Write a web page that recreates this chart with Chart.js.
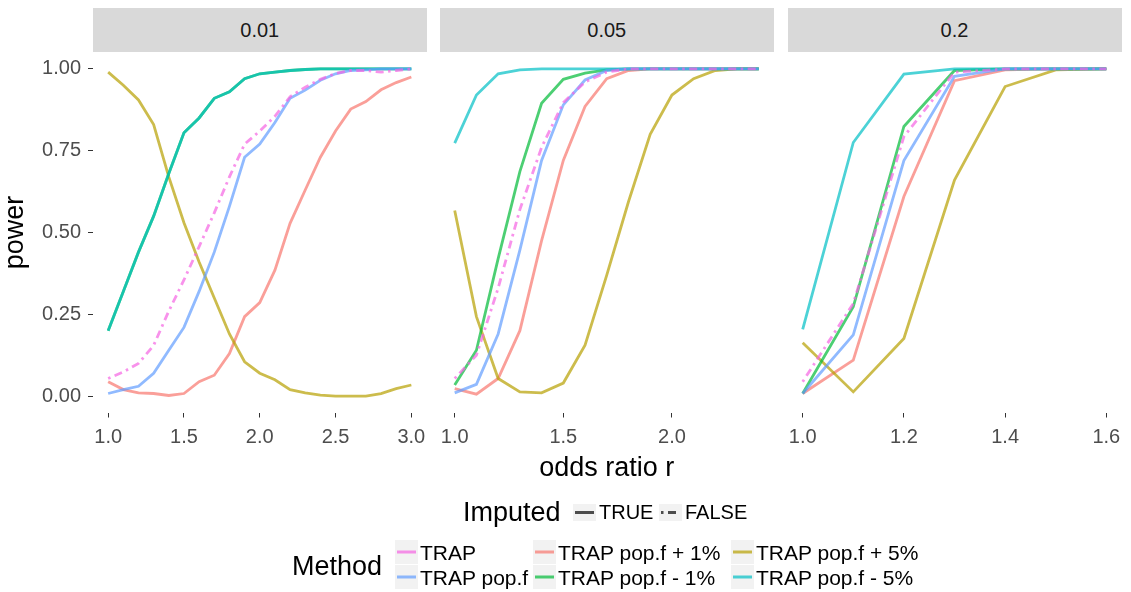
<!DOCTYPE html>
<html><head><meta charset="utf-8">
<script src="https://cdn.jsdelivr.net/npm/chart.js@4.4.1/dist/chart.umd.min.js"></script>
<style>
html,body{margin:0;padding:0;background:#fff;}
#wrap{position:relative;width:1131px;height:592px;overflow:hidden;font-family:"Liberation Sans",Arial,sans-serif;}
#wrap canvas{position:absolute;left:0;top:0;}
.strip{position:absolute;top:8px;height:44px;background:#d9d9d9;color:#1a1a1a;font-size:20px;line-height:44px;text-align:center;}
.lt{position:absolute;white-space:nowrap;color:#000;}
.key{position:absolute;background:#f2f2f2;}
</style></head><body>
<div id="wrap"></div>
<script>
// ---------- data ----------
const facetLabels = ["0.01", "0.05", "0.2"];
const methods = ["TRAP", "TRAP pop.f", "TRAP pop.f + 1%", "TRAP pop.f - 1%", "TRAP pop.f + 5%", "TRAP pop.f - 5%"];

const xValues1 = [1.0,1.1,1.2,1.3,1.4,1.5,1.6,1.7,1.8,1.9,2.0,2.1,2.2,2.3,2.4,2.5,2.6,2.7,2.8,2.9,3.0];
const xValues2 = [1.0,1.1,1.2,1.3,1.4,1.5,1.6,1.7,1.8,1.9,2.0,2.1,2.2,2.3,2.4];
const xValues3 = [1.0,1.1,1.2,1.3,1.4,1.5,1.6];

const xTicks1 = [1.0, 1.5, 2.0, 2.5, 3.0];
const xTicks2 = [1.0, 1.5, 2.0];
const xTicks3 = [1.0, 1.2, 1.4, 1.6];
const yTicks = [0, 0.25, 0.5, 0.75, 1.0];

// panel 0.01
const p1Trap    = [0.054,0.074,0.10,0.155,0.26,0.355,0.457,0.56,0.67,0.77,0.81,0.855,0.915,0.944,0.968,0.986,0.995,0.995,0.99,0.995,1.0];
const p1Popf    = [0.008,0.02,0.03,0.07,0.14,0.21,0.32,0.44,0.58,0.73,0.77,0.836,0.91,0.935,0.965,0.985,0.995,0.997,1.0,1.0,1.0];
const p1Plus1   = [0.044,0.02,0.01,0.008,0.002,0.008,0.044,0.064,0.13,0.243,0.286,0.385,0.528,0.63,0.73,0.81,0.877,0.90,0.936,0.958,0.975];
const p1Minus1  = [0.2,0.32,0.44,0.55,0.68,0.805,0.85,0.91,0.93,0.97,0.985,0.99,0.995,0.998,1.0,1.0,1.0,1.0,1.0,1.0,1.0];
const p1Plus5   = [0.99,0.95,0.905,0.83,0.67,0.53,0.41,0.30,0.19,0.105,0.07,0.05,0.02,0.01,0.003,0.0,0.0,0.0,0.008,0.023,0.034];
const p1Minus5  = [0.2,0.32,0.44,0.55,0.68,0.805,0.85,0.91,0.93,0.97,0.985,0.99,0.995,0.998,1.0,1.0,1.0,1.0,1.0,1.0,1.0];

// panel 0.05
const p2Trap    = [0.054,0.125,0.33,0.57,0.76,0.897,0.96,0.99,1.0,1.0,1.0,1.0,1.0,1.0,1.0];
const p2Popf    = [0.01,0.036,0.19,0.446,0.72,0.89,0.966,0.995,1.0,1.0,1.0,1.0,1.0,1.0,1.0];
const p2Plus1   = [0.023,0.006,0.054,0.20,0.475,0.72,0.885,0.97,0.995,1.0,1.0,1.0,1.0,1.0,1.0];
const p2Minus1  = [0.034,0.14,0.42,0.686,0.895,0.968,0.987,0.997,1.0,1.0,1.0,1.0,1.0,1.0,1.0];
const p2Plus5   = [0.567,0.243,0.054,0.013,0.01,0.04,0.156,0.37,0.594,0.80,0.92,0.97,0.995,1.0,1.0];
const p2Minus5  = [0.773,0.92,0.985,0.997,1.0,1.0,1.0,1.0,1.0,1.0,1.0,1.0,1.0,1.0,1.0];

// panel 0.2
const p3Trap    = [0.044,0.283,0.793,0.99,1.0,1.0,1.0];
const p3Popf    = [0.008,0.187,0.72,0.977,1.0,1.0,1.0];
const p3Plus1   = [0.008,0.11,0.61,0.964,0.997,1.0,1.0];
const p3Minus1  = [0.008,0.273,0.824,0.995,1.0,1.0,1.0];
const p3Plus5   = [0.163,0.013,0.176,0.66,0.946,0.997,1.0];
const p3Minus5  = [0.204,0.775,0.984,1.0,1.0,1.0,1.0];

const imputedLabels = ["TRUE", "FALSE"];
const methodImputed = {"TRAP": "FALSE"}; // others TRUE

// ---------- styling ----------
const FONT = '"Liberation Sans", Arial, sans-serif';
const colors = {
  "TRAP": "rgba(245,100,227,0.7)",
  "TRAP pop.f": "rgba(97,156,255,0.7)",
  "TRAP pop.f + 1%": "rgba(248,118,109,0.7)",
  "TRAP pop.f - 1%": "rgba(0,186,56,0.7)",
  "TRAP pop.f + 5%": "rgba(183,159,0,0.7)",
  "TRAP pop.f - 5%": "rgba(0,191,196,0.7)"
};
const drawOrder = {"TRAP":0,"TRAP pop.f":1,"TRAP pop.f - 5%":2,"TRAP pop.f - 1%":3,"TRAP pop.f + 5%":4,"TRAP pop.f + 1%":5};
const dotdash = [2.5, 4.5, 8, 4.5];

const W = 1131, H = 592;
const panelTop = 52.5, panelBottom = 412.5, yAxisW = 93, xAxisH = 80;
const panels = [
  {left:93,    right:426.5,  xs:xValues1, ticks:xTicks1, min:0.9,  max:3.1,
   series:[p1Trap,p1Popf,p1Plus1,p1Minus1,p1Plus5,p1Minus5]},
  {left:439.5, right:774,    xs:xValues2, ticks:xTicks2, min:0.93, max:2.47,
   series:[p2Trap,p2Popf,p2Plus1,p2Minus1,p2Plus5,p2Minus5]},
  {left:787.5, right:1121.5, xs:xValues3, ticks:xTicks3, min:0.97, max:1.63,
   series:[p3Trap,p3Popf,p3Plus1,p3Minus1,p3Plus5,p3Minus5]}
];

const wrap = document.getElementById('wrap');

panels.forEach((p, pi) => {
  // strip
  const s = document.createElement('div');
  s.className = 'strip';
  s.style.left = p.left + 'px';
  s.style.width = (p.right - p.left) + 'px';
  s.textContent = facetLabels[pi];
  wrap.appendChild(s);

  const cv = document.createElement('canvas');
  cv.width = W; cv.height = H;
  wrap.appendChild(cv);

  const datasets = methods.map((m, mi) => ({
    label: m,
    data: p.xs.map((x, i) => ({x: x, y: p.series[mi][i]})),
    borderColor: colors[m],
    backgroundColor: colors[m],
    borderWidth: 2.8,
    pointRadius: 0,
    tension: 0,
    fill: false,
    borderDash: methodImputed[m] === "FALSE" ? dotdash : [],
    order: drawOrder[m]
  }));

  const showY = pi === 0;
  new Chart(cv, {
    type: 'line',
    data: {datasets},
    options: {
      responsive: false,
      animation: false,
      devicePixelRatio: 1,
      layout: {padding: {
        left: showY ? p.left - yAxisW : p.left,
        right: W - p.right,
        top: panelTop,
        bottom: H - panelBottom - xAxisH
      }},
      plugins: {legend: {display: false}, tooltip: {enabled: false}},
      scales: {
        x: {
          type: 'linear', min: p.min, max: p.max,
          afterBuildTicks: sc => { sc.ticks = p.ticks.map(v => ({value: v})); },
          afterFit: sc => { sc.height = xAxisH; },
          ticks: {font: {size: 20, family: FONT}, color: '#4d4d4d', padding: 8,
                  maxRotation: 0, autoSkip: false, callback: v => Number(v).toFixed(1)},
          grid: {display: true, drawOnChartArea: false, drawTicks: true, tickLength: 5,
                 color: '#333333', tickColor: '#333333', lineWidth: 1},
          border: {display: false},
          title: {display: pi === 1, text: 'odds ratio r', color: '#000',
                  font: {size: 27, family: FONT, lineHeight: 1}, padding: {top: 0, bottom: 10}}
        },
        y: {
          display: showY,
          min: -0.05, max: 1.05,
          afterBuildTicks: sc => { sc.ticks = yTicks.map(v => ({value: v})); },
          afterFit: sc => { sc.width = showY ? yAxisW : 0; },
          ticks: {font: {size: 20, family: FONT}, color: '#4d4d4d', padding: 7,
                  callback: v => Number(v).toFixed(2)},
          grid: {display: true, drawOnChartArea: false, drawTicks: true, tickLength: 5,
                 color: '#333333', tickColor: '#333333', lineWidth: 1},
          border: {display: false},
          title: {display: true, text: 'power', color: '#000',
                  font: {size: 27, family: FONT, lineHeight: 1}, padding: {top: 2, bottom: 0}}
        }
      }
    }
  });
});

// ---------- legends (HTML) ----------
function addText(txt, x, cy, size) {
  const d = document.createElement('div');
  d.className = 'lt';
  d.style.left = x + 'px';
  d.style.fontSize = size + 'px';
  d.style.lineHeight = (size + 6) + 'px';
  d.style.top = (cy - (size + 6) / 2) + 'px';
  d.textContent = txt;
  wrap.appendChild(d);
}
function addKey(x, cy, w, h, color, dash) {
  const k = document.createElement('div');
  k.className = 'key';
  k.style.left = x + 'px'; k.style.top = (cy - h / 2) + 'px';
  k.style.width = w + 'px'; k.style.height = h + 'px';
  const svgNS = 'http://www.w3.org/2000/svg';
  const svg = document.createElementNS(svgNS, 'svg');
  svg.setAttribute('width', w); svg.setAttribute('height', h);
  svg.style.position = 'absolute'; svg.style.left = '0'; svg.style.top = '0';
  const ln = document.createElementNS(svgNS, 'line');
  ln.setAttribute('x1', 2); ln.setAttribute('x2', w - 2);
  ln.setAttribute('y1', h / 2); ln.setAttribute('y2', h / 2);
  ln.setAttribute('stroke', color); ln.setAttribute('stroke-width', 3);
  if (dash) ln.setAttribute('stroke-dasharray', dash.join(','));
  svg.appendChild(ln);
  k.appendChild(svg);
  wrap.appendChild(k);
}

// Imputed legend
addText('Imputed', 463, 512, 27);
addKey(573, 512, 23, 17, '#4d4d4d', null);
addText(imputedLabels[0], 599, 512, 20);
addKey(659, 512, 23, 17, '#4d4d4d', dotdash);
addText(imputedLabels[1], 685, 512, 20);

// Method legend (2 rows x 3 columns, column-major)
addText('Method', 292, 566, 27);
const keyCols = [395, 533, 731];
const rowsY = [552, 577];
methods.forEach((m, i) => {
  const col = Math.floor(i / 2), row = i % 2;
  addKey(keyCols[col], rowsY[row], 23, 24, colors[m], null);
  addText(m, keyCols[col] + 25, rowsY[row], 21);
});
</script>
</body></html>
